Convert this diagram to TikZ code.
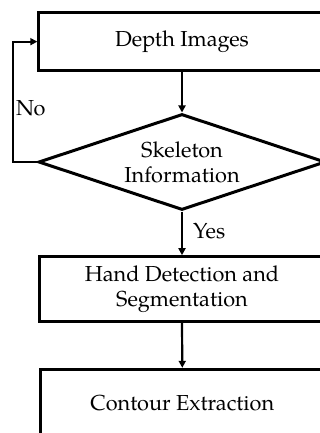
\documentclass[tikz,border=0pt]{standalone}
\usepackage{fontspec}
\setmainfont{TeX Gyre Pagella}
\usetikzlibrary{shapes.geometric,arrows.meta}
\begin{document}
\begin{tikzpicture}[x=1pt,y=-1pt,
  box/.style={draw,line width=3pt,rectangle,inner sep=0pt,align=center,font=\fontsize{21.7}{25.3}\selectfont},
  dec/.style={draw,line width=3pt,diamond,aspect=3,inner sep=0pt,align=center,minimum width=287pt,minimum height=96pt,font=\fontsize{21.7}{25}\selectfont},
  conn/.style={line width=2.2pt,-{Triangle[length=7pt,width=7pt]}},
  lbl/.style={font=\fontsize{21.7}{25}\selectfont,inner sep=0pt}]
\useasboundingbox (0,0) rectangle (320,433);
\node[box,minimum width=286.4pt,minimum height=58.3pt] (d1) at (182,41.65) {Depth Images};
\node[dec] (sk) at (182,162) {Skeleton\\Information};
\node[box,minimum width=285.6pt,minimum height=64.3pt] (hd) at (182,288.85) {Hand Detection and\\Segmentation};
\node[box,minimum width=283.2pt,minimum height=66.7pt] (ce) at (182.3,402.65) {Contour Extraction};
\coordinate (fb) at (13,162);
\draw[conn] (d1.south) -- (sk.north);
\draw[conn] (sk.west) -- (fb) |- (d1.west);
\draw[conn] (sk.south) -- (hd.north);
\draw[conn] (hd.south) -- (ce.north);
\node[lbl,anchor=base west] (no) at (16,115) {No};
\node[lbl,anchor=base west] (yes) at (193,238) {Yes};
\end{tikzpicture}
\end{document}
